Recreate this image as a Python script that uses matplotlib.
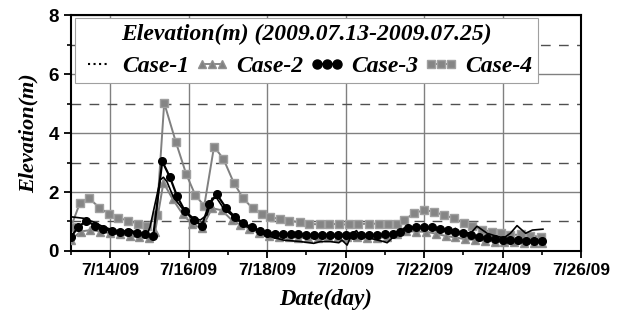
import datetime as dt
import matplotlib
matplotlib.use('Agg')
import matplotlib.pyplot as plt
import matplotlib.dates as mdates
from matplotlib.lines import Line2D
from matplotlib.ticker import FuncFormatter, MultipleLocator

start = dt.datetime(2009, 7, 13)

# days after 7/13/09 00:00 and elevation (m)
t1 = [0, 0.32, 0.57, 0.83, 1.08, 1.34, 1.51, 1.68, 1.94, 2.02, 2.15, 2.28, 2.36, 2.45,
      2.61, 2.87, 3.13, 3.30, 3.47, 3.60, 3.72, 3.89, 4.15, 4.49, 4.83, 5.08, 5.42,
      5.85, 6.19, 6.36, 6.61, 6.83, 6.91, 7.04, 7.17, 7.28, 7.36, 7.63, 7.97, 8.06,
      8.23, 8.36, 8.48, 8.65, 8.90, 9.25, 9.67, 9.80, 9.93, 10.20, 10.35, 10.50, 10.61,
      10.87, 11.04, 11.20, 11.37, 11.59, 11.76, 12.03]
case1 = [1.16, 1.11, 0.99, 0.82, 0.71, 0.66, 0.73, 0.60, 0.54, 0.82, 1.62, 2.41, 2.50, 2.35,
         1.84, 1.39, 1.11, 1.05, 1.22, 1.79, 1.79, 1.45, 1.16, 0.82, 0.66, 0.49, 0.37,
         0.32, 0.26, 0.32, 0.32, 0.28, 0.37, 0.20, 0.60, 0.69, 0.53, 0.43, 0.32, 0.28,
         0.49, 0.60, 0.77, 0.82, 0.80, 0.73, 0.66, 0.77, 0.60, 0.62, 0.84, 0.70, 0.60,
         0.49, 0.45, 0.60, 0.86, 0.60, 0.71, 0.74]

t2 = [0, 0.25, 0.50, 0.75, 1.00, 1.25, 1.50, 1.75, 2.00, 2.15, 2.36, 2.60, 2.85, 3.10,
      3.34, 3.60, 3.85, 4.10, 4.32, 4.55, 4.80, 5.05, 5.30, 5.55, 5.80, 6.05, 6.30,
      6.55, 6.80, 7.05, 7.30, 7.55, 7.80, 8.05, 8.30, 8.55, 8.80, 9.05, 9.30, 9.55,
      9.80, 10.05, 10.30, 10.55, 10.80, 11.05, 11.30, 11.55, 11.80, 12.00]
case2 = [0.37, 0.66, 0.71, 0.66, 0.60, 0.57, 0.51, 0.46, 0.43, 0.66, 2.32, 1.75, 1.25, 0.90,
         0.77, 1.45, 1.38, 1.05, 0.88, 0.76, 0.60, 0.52, 0.49, 0.47, 0.45, 0.45, 0.45,
         0.46, 0.48, 0.49, 0.47, 0.45, 0.44, 0.47, 0.58, 0.67, 0.66, 0.65, 0.59, 0.51,
         0.46, 0.40, 0.37, 0.35, 0.32, 0.31, 0.30, 0.28, 0.26, 0.26]

t3 = [0, 0.19, 0.40, 0.62, 0.83, 1.04, 1.26, 1.47, 1.68, 1.89, 2.10, 2.33, 2.52, 2.71,
      2.91, 3.13, 3.34, 3.53, 3.72, 3.95, 4.19, 4.40, 4.61, 4.83, 5.00, 5.20, 5.40,
      5.60, 5.80, 6.00, 6.20, 6.40, 6.60, 6.80, 7.00, 7.20, 7.40, 7.60, 7.80, 8.00,
      8.20, 8.40, 8.60, 8.80, 9.00, 9.20, 9.40, 9.60, 9.80, 10.00, 10.20, 10.40, 10.60,
      10.80, 11.00, 11.20, 11.40, 11.60, 11.80, 12.00]
case3 = [0.46, 0.82, 1.02, 0.86, 0.75, 0.68, 0.66, 0.66, 0.62, 0.56, 0.50, 3.04, 2.52, 1.85,
         1.35, 1.05, 0.86, 1.60, 1.92, 1.47, 1.14, 0.94, 0.80, 0.68, 0.62, 0.59, 0.58,
         0.57, 0.56, 0.55, 0.55, 0.55, 0.55, 0.55, 0.55, 0.55, 0.55, 0.55, 0.55, 0.56,
         0.59, 0.66, 0.77, 0.82, 0.82, 0.80, 0.76, 0.71, 0.66, 0.60, 0.53, 0.48, 0.43,
         0.40, 0.37, 0.36, 0.36, 0.35, 0.35, 0.34]

t4 = [0, 0.23, 0.47, 0.73, 0.98, 1.21, 1.47, 1.72, 1.94, 2.19, 2.38, 2.68, 2.94, 3.17,
      3.40, 3.65, 3.89, 4.15, 4.39, 4.63, 4.87, 5.08, 5.34, 5.57, 5.83, 6.08, 6.34,
      6.59, 6.83, 7.08, 7.33, 7.59, 7.85, 8.08, 8.31, 8.50, 8.74, 9.01, 9.25, 9.50,
      9.76, 10.01, 10.23, 10.48, 10.74, 10.95, 11.20, 11.46, 11.71, 11.97]
case4 = [0.80, 1.62, 1.78, 1.47, 1.24, 1.13, 1.02, 0.92, 0.85, 1.22, 5.02, 3.68, 2.61, 1.90,
         1.53, 3.54, 3.12, 2.32, 1.79, 1.45, 1.25, 1.16, 1.07, 1.03, 0.97, 0.92, 0.90,
         0.93, 0.90, 0.90, 0.91, 0.93, 0.92, 0.92, 0.93, 1.05, 1.28, 1.39, 1.33, 1.22,
         1.11, 0.96, 0.85, 0.71, 0.66, 0.60, 0.54, 0.56, 0.51, 0.49]

labels = ['Case-1', 'Case-2', 'Case-3', 'Case-4']
legend_title = 'Elevation(m) (2009.07.13-2009.07.25)'


def to_dates(days):
    return [start + dt.timedelta(days=d) for d in days]


serif = {'family': 'Liberation Serif', 'weight': 'bold', 'style': 'italic'}

fig = plt.figure(figsize=(6.21, 3.22), dpi=100)
ax = fig.add_axes([0.114, 0.2205, 0.8216, 0.7329])

ax.plot(to_dates(t1), case1, c='black', lw=1.2, zorder=4)
ax.plot(to_dates(t2), case2, c='#808080', lw=1.4, marker='^', ms=5.5,
        mfc='#808080', mec='#909090', zorder=3)
ax.plot(to_dates(t3), case3, c='black', lw=1.6, marker='o', ms=5.5,
        mfc='black', mec='black', zorder=5)
ax.plot(to_dates(t4), case4, c='#808080', lw=1.4, marker='s', ms=5.5,
        mfc='#858585', mec='#a0a0a0', zorder=2)

ax.set_xlim(start, start + dt.timedelta(days=13))
ax.set_ylim(0, 8)
ax.xaxis.set_major_locator(mdates.DayLocator(bymonthday=[14, 16, 18, 20, 22, 24, 26]))
ax.xaxis.set_minor_locator(mdates.DayLocator())
ax.xaxis.set_major_formatter(FuncFormatter(
    lambda x, pos: '%d/%d/%02d' % (mdates.num2date(x).month, mdates.num2date(x).day,
                                   mdates.num2date(x).year % 100)))
ax.yaxis.set_major_locator(MultipleLocator(2))
ax.yaxis.set_minor_locator(MultipleLocator(1))

ax.grid(which='major', color='#808080', lw=1.0, ls='-')
ax.grid(which='minor', axis='y', color='#505050', lw=1.0, ls=(0, (7, 6)))
ax.set_axisbelow(True)

for s in ax.spines.values():
    s.set_linewidth(1.5)
ax.tick_params(axis='both', which='major', direction='out', length=5, width=1.3,
               labelsize=12.5)
ax.tick_params(axis='y', which='major', labelsize=13.5)
ax.tick_params(axis='both', which='minor', direction='out', length=3, width=1.2)
for lab in ax.get_xticklabels() + ax.get_yticklabels():
    lab.set_fontfamily('Liberation Sans')
    lab.set_fontweight('bold')

ax.set_xlabel('Date(day)', fontdict=serif, fontsize=16.5, labelpad=8)
ax.set_ylabel('Elevation(m)', fontdict=serif, fontsize=16, labelpad=7)

handles = [
    Line2D([], [], c='black', lw=1.5, ls=':'),
    Line2D([], [], c='#808080', lw=1.3, marker='^', ms=6, mfc='#808080', mec='#909090'),
    Line2D([], [], c='black', lw=1.5, marker='o', ms=6.5, mfc='black'),
    Line2D([], [], c='#808080', lw=1.3, marker='s', ms=6, mfc='#858585', mec='#a0a0a0'),
]
leg = ax.legend(handles, labels, title=legend_title, ncol=4, numpoints=3,
                loc='upper left', bbox_to_anchor=(0.008, 0.987), borderaxespad=0,
                prop={'family': 'Liberation Serif', 'weight': 'bold', 'style': 'italic',
                      'size': 17},
                title_fontproperties={'family': 'Liberation Serif', 'weight': 'bold',
                                      'style': 'italic', 'size': 17},
                handlelength=1.45, handletextpad=0.3, columnspacing=0.25,
                borderpad=0.25, labelspacing=0.45, fancybox=False, framealpha=1,
                edgecolor='#a0a0a0')
leg.get_frame().set_linewidth(0.8)

fig.savefig('out.png', dpi=100)
